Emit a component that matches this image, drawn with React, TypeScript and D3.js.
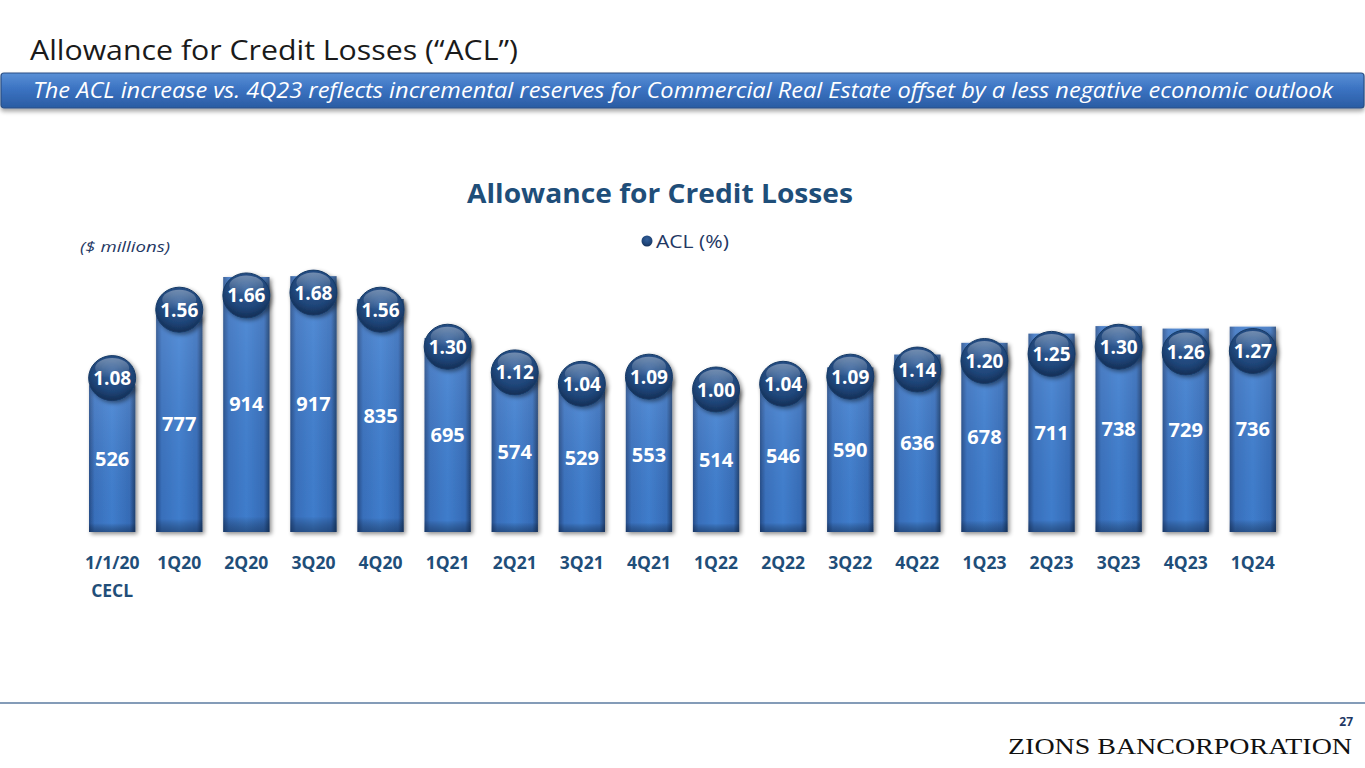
import { useEffect, useRef } from "react"
import * as d3 from "d3"

const quarters = ["1/1/20", "1Q20", "2Q20", "3Q20", "4Q20", "1Q21", "2Q21", "3Q21", "4Q21", "1Q22", "2Q22", "3Q22", "4Q22", "1Q23", "2Q23", "3Q23", "4Q23", "1Q24"]
const aclAmount = [526, 777, 914, 917, 835, 695, 574, 529, 553, 514, 546, 590, 636, 678, 711, 738, 729, 736]
const aclPct = [1.08, 1.56, 1.66, 1.68, 1.56, 1.30, 1.12, 1.04, 1.09, 1.00, 1.04, 1.09, 1.14, 1.20, 1.25, 1.30, 1.26, 1.27]
const subLabels = ["CECL"]

const W = 1365
const H = 768
const FONT = "'Open Sans', 'Noto Sans', sans-serif"
const NAVY = "#1f4e79"

export default function App() {
  const svgRef = useRef<SVGSVGElement>(null)

  useEffect(() => {
    if (!svgRef.current) return
    const svg = d3.select(svgRef.current)
    svg.selectAll("*").remove()

    const defs = svg.append("defs")

    // banner gradient
    const bg = defs.append("linearGradient").attr("id", "banner").attr("x1", 0).attr("y1", 0).attr("x2", 0).attr("y2", 1)
    bg.append("stop").attr("offset", "0%").attr("stop-color", "#5a90d6")
    bg.append("stop").attr("offset", "45%").attr("stop-color", "#3b73c2")
    bg.append("stop").attr("offset", "100%").attr("stop-color", "#2a5ca3")

    // bar gradient (bevelled edges)
    const barG = defs.append("linearGradient").attr("id", "barH").attr("x1", 0).attr("y1", 0).attr("x2", 1).attr("y2", 0)
    barG.append("stop").attr("offset", "0%").attr("stop-color", "#274f8c")
    barG.append("stop").attr("offset", "12%").attr("stop-color", "#3a73c2")
    barG.append("stop").attr("offset", "50%").attr("stop-color", "#4282d4")
    barG.append("stop").attr("offset", "88%").attr("stop-color", "#376fbd")
    barG.append("stop").attr("offset", "100%").attr("stop-color", "#1f4274")

    const barV = defs.append("linearGradient").attr("id", "barV").attr("x1", 0).attr("y1", 0).attr("x2", 0).attr("y2", 1)
    barV.append("stop").attr("offset", "0%").attr("stop-color", "#ffffff").attr("stop-opacity", 0.12)
    barV.append("stop").attr("offset", "94%").attr("stop-color", "#000000").attr("stop-opacity", 0.04)
    barV.append("stop").attr("offset", "100%").attr("stop-color", "#0b1e3a").attr("stop-opacity", 0.45)

    // bubble gradient
    const bub = defs.append("radialGradient").attr("id", "bubble").attr("cx", "50%").attr("cy", "35%").attr("r", "65%")
    bub.append("stop").attr("offset", "0%").attr("stop-color", "#33609c")
    bub.append("stop").attr("offset", "70%").attr("stop-color", "#1e4477")
    bub.append("stop").attr("offset", "100%").attr("stop-color", "#142e55")

    const gloss = defs.append("linearGradient").attr("id", "gloss").attr("x1", 0).attr("y1", 0).attr("x2", 0).attr("y2", 1)
    gloss.append("stop").attr("offset", "0%").attr("stop-color", "#ffffff").attr("stop-opacity", 0.35)
    gloss.append("stop").attr("offset", "100%").attr("stop-color", "#ffffff").attr("stop-opacity", 0)

    const shadow = defs.append("filter").attr("id", "shadow").attr("x", "-30%").attr("y", "-10%").attr("width", "160%").attr("height", "130%")
    shadow.append("feDropShadow").attr("dx", 2).attr("dy", 2).attr("stdDeviation", 2).attr("flood-color", "#000").attr("flood-opacity", 0.45)

    const bannerShadow = defs.append("filter").attr("id", "bshadow").attr("x", "-5%").attr("y", "-30%").attr("width", "110%").attr("height", "170%")
    bannerShadow.append("feDropShadow").attr("dx", 0).attr("dy", 3).attr("stdDeviation", 2).attr("flood-color", "#000").attr("flood-opacity", 0.35)

    // page title
    svg.append("text")
      .attr("x", 30).attr("y", 60)
      .attr("font-family", FONT).attr("font-size", 28)
      .attr("fill", "#1a1a1a")
      .attr("textLength", 488).attr("lengthAdjust", "spacingAndGlyphs")
      .text("Allowance for Credit Losses (\u201cACL\u201d)")

    // banner
    svg.append("rect")
      .attr("x", 1).attr("y", 73).attr("width", W - 2).attr("height", 35)
      .attr("rx", 3)
      .attr("fill", "url(#banner)")
      .attr("stroke", "#2a4f85").attr("stroke-width", 1.2)
      .attr("filter", "url(#bshadow)")

    svg.append("text")
      .attr("x", 33).attr("y", 98)
      .attr("font-family", FONT).attr("font-size", 21).attr("font-style", "italic")
      .attr("fill", "#ffffff")
      .attr("textLength", 1300).attr("lengthAdjust", "spacingAndGlyphs")
      .text("The ACL increase vs. 4Q23 reflects incremental reserves for Commercial Real Estate offset by a less negative economic outlook")

    // chart title
    svg.append("text")
      .attr("x", 660).attr("y", 203)
      .attr("text-anchor", "middle")
      .attr("font-family", FONT).attr("font-size", 27).attr("font-weight", 700)
      .attr("fill", NAVY)
      .attr("textLength", 386).attr("lengthAdjust", "spacingAndGlyphs")
      .text("Allowance for Credit Losses")

    // legend
    svg.append("circle").attr("cx", 647).attr("cy", 241).attr("r", 5.5).attr("fill", "url(#bubble)")
    svg.append("text")
      .attr("x", 656).attr("y", 248)
      .attr("font-family", FONT).attr("font-size", 18)
      .attr("fill", "#1f3864")
      .attr("textLength", 73).attr("lengthAdjust", "spacingAndGlyphs")
      .text("ACL (%)")

    svg.append("text")
      .attr("x", 80).attr("y", 252)
      .attr("font-family", FONT).attr("font-size", 15).attr("font-style", "italic")
      .attr("fill", "#1f3864")
      .attr("textLength", 90).attr("lengthAdjust", "spacingAndGlyphs")
      .text("($ millions)")

    // scales
    const x = d3.scaleBand<string>().domain(quarters).range([89, 1276]).paddingInner(0.31).paddingOuter(0)
    const y = d3.scaleLinear().domain([0, 1000]).range([532, 253])
    const y2 = d3.scaleLinear().domain([0, 2]).range([532, 247])

    const g = svg.append("g")

    // bars
    const bars = g.selectAll("g.bar").data(quarters).enter().append("g").attr("class", "bar")
    bars.append("rect")
      .attr("x", d => x(d)!)
      .attr("y", (_, i) => y(aclAmount[i]))
      .attr("width", x.bandwidth())
      .attr("height", (_, i) => y(0) - y(aclAmount[i]))
      .attr("fill", "url(#barH)")
      .attr("filter", "url(#shadow)")
    bars.append("rect")
      .attr("x", d => x(d)!)
      .attr("y", (_, i) => y(aclAmount[i]))
      .attr("width", x.bandwidth())
      .attr("height", (_, i) => y(0) - y(aclAmount[i]))
      .attr("fill", "url(#barV)")

    // bar value labels
    g.selectAll("text.amt").data(aclAmount).enter().append("text")
      .attr("class", "amt")
      .attr("x", (_, i) => x(quarters[i])! + x.bandwidth() / 2)
      .attr("y", d => (y(d) + y(0)) / 2 + 7)
      .attr("text-anchor", "middle")
      .attr("font-family", FONT).attr("font-size", 20).attr("font-weight", 700)
      .attr("fill", "#ffffff")
      .text(d => d)

    // bubbles
    const bubbles = g.selectAll("g.bub").data(aclPct).enter().append("g").attr("class", "bub")
      .attr("transform", (d, i) => `translate(${x(quarters[i])! + x.bandwidth() / 2},${y2(d)})`)
    bubbles.append("ellipse").attr("rx", 23.5).attr("ry", 22.5).attr("fill", "url(#bubble)")
      .attr("stroke", "#163a66").attr("stroke-width", 1)
      .attr("filter", "url(#shadow)")
    bubbles.append("ellipse").attr("cy", -10).attr("rx", 17).attr("ry", 10).attr("fill", "url(#gloss)")
    bubbles.append("text")
      .attr("y", 7)
      .attr("text-anchor", "middle")
      .attr("font-family", FONT).attr("font-size", 19).attr("font-weight", 700)
      .attr("fill", "#ffffff")
      .text(d => d.toFixed(2))

    // category labels
    g.selectAll("text.cat").data(quarters).enter().append("text")
      .attr("class", "cat")
      .attr("x", d => x(d)! + x.bandwidth() / 2)
      .attr("y", 569)
      .attr("text-anchor", "middle")
      .attr("font-family", FONT).attr("font-size", 17.5).attr("font-weight", 700)
      .attr("fill", NAVY)
      .text(d => d)
    g.selectAll("text.sub").data(subLabels).enter().append("text")
      .attr("class", "sub")
      .attr("x", x(quarters[0])! + x.bandwidth() / 2)
      .attr("y", 597)
      .attr("text-anchor", "middle")
      .attr("font-family", FONT).attr("font-size", 17.5).attr("font-weight", 700)
      .attr("fill", NAVY)
      .text(d => d)

    // footer
    svg.append("line").attr("x1", 0).attr("x2", W).attr("y1", 703).attr("y2", 703)
      .attr("stroke", "#5b7ba0").attr("stroke-width", 1.5)
    svg.append("text")
      .attr("x", 1353).attr("y", 726)
      .attr("text-anchor", "end")
      .attr("font-family", FONT).attr("font-size", 12).attr("font-weight", 700)
      .attr("fill", "#1f3864")
      .text("27")
    svg.append("text")
      .attr("x", 1008).attr("y", 754)
      .attr("font-family", "'Liberation Serif', 'DejaVu Serif', serif").attr("font-size", 24)
      .attr("fill", "#111111")
      .attr("textLength", 344).attr("lengthAdjust", "spacingAndGlyphs")
      .text("ZIONS BANCORPORATION")
  }, [])

  return (
    <svg
      ref={svgRef}
      width={W}
      height={H}
      style={{ position: "absolute", left: 0, top: 0, background: "#ffffff" }}
    />
  )
}
